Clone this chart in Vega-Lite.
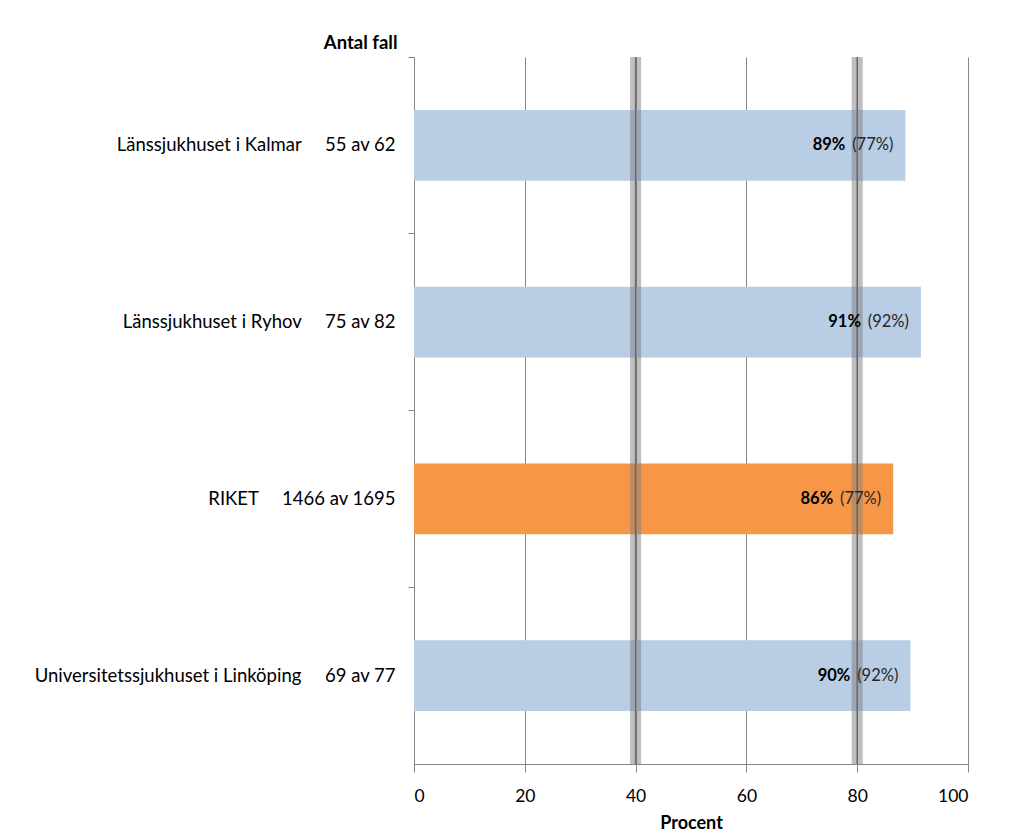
{
  "$schema": "https://vega.github.io/schema/vega-lite/v6.json",
  "autosize": "none",
  "padding": {"left": 414, "top": 57, "right": 56, "bottom": 72},
  "width": 554,
  "height": 707,
  "background": "white",
  "config": {"font": "Lato", "view": {"stroke": null}},
  "datasets": {
    "rows": [
      {"label": "Länssjukhuset i Kalmar\u00a0\u00a0\u00a0\u00a0\u00a055 av 62", "value": 88.7, "pct": "89%", "prev": "(77%)", "group": "sjukhus"},
      {"label": "Länssjukhuset i Ryhov\u00a0\u00a0\u00a0\u00a0\u00a075 av 82", "value": 91.5, "pct": "91%", "prev": "(92%)", "group": "sjukhus"},
      {"label": "RIKET\u00a0\u00a0\u00a0\u00a0\u00a01466 av 1695", "value": 86.5, "pct": "86%", "prev": "(77%)", "group": "riket"},
      {"label": "Universitetssjukhuset i Linköping\u00a0\u00a0\u00a0\u00a0\u00a069 av 77", "value": 89.6, "pct": "90%", "prev": "(92%)", "group": "sjukhus"}
    ],
    "refs": [{"x": 40}, {"x": 80}]
  },
  "layer": [
    {
      "data": {"name": "rows"},
      "mark": {"type": "bar", "height": {"band": 0.4}},
      "encoding": {
        "y": {
          "field": "label", "type": "nominal", "sort": null,
          "scale": {"paddingInner": 0, "paddingOuter": 0},
          "axis": {
            "title": "Antal fall", "titleAngle": 0, "titleAlign": "right", "titleBaseline": "middle",
            "titleX": -17, "titleY": -15, "titleFontSize": 18.5, "titleFontWeight": "bold", "titleColor": "#000000",
            "bandPosition": 0, "tickSize": 6, "labelPadding": 13,
            "labelFontSize": 18.5, "labelColor": "#000000", "labelLimit": 500,
            "domainColor": "#868686", "tickColor": "#868686"
          }
        },
        "x": {
          "field": "value", "type": "quantitative",
          "scale": {"domain": [0, 100], "nice": false},
          "axis": {
            "title": "Procent", "titleFontSize": 18, "titleFontWeight": "bold", "titleColor": "#000000", "titlePadding": 10,
            "values": [0, 20, 40, 60, 80, 100], "grid": true, "gridColor": "#868686", "gridOpacity": 1,
            "domainColor": "#868686", "tickColor": "#868686", "tickSize": 8,
            "labelFontSize": 17.5, "labelColor": "#000000", "labelPadding": 15
          }
        },
        "color": {
          "field": "group", "type": "nominal",
          "scale": {"domain": ["sjukhus", "riket"], "range": ["#b9cde5", "#f79646"]},
          "legend": null
        }
      }
    },
    {
      "data": {"name": "refs"},
      "mark": {"type": "rule", "strokeWidth": 11, "color": "#808080", "opacity": 0.5},
      "encoding": {"x": {"field": "x", "type": "quantitative"}}
    },
    {
      "data": {"name": "refs"},
      "mark": {"type": "rule", "strokeWidth": 1.5, "color": "#595959", "opacity": 0.8},
      "encoding": {"x": {"field": "x", "type": "quantitative"}}
    },
    {
      "data": {"name": "rows"},
      "mark": {"type": "text", "align": "right", "baseline": "middle", "dx": -12, "fontSize": 16.5, "color": "#262626"},
      "encoding": {
        "y": {"field": "label", "type": "nominal", "sort": null},
        "x": {"field": "value", "type": "quantitative"},
        "text": {"field": "prev"}
      }
    },
    {
      "data": {"name": "rows"},
      "mark": {"type": "text", "align": "right", "baseline": "middle", "dx": -60, "fontSize": 16.5, "fontWeight": "bold", "color": "#000000"},
      "encoding": {
        "y": {"field": "label", "type": "nominal", "sort": null},
        "x": {"field": "value", "type": "quantitative"},
        "text": {"field": "pct"}
      }
    }
  ]
}
